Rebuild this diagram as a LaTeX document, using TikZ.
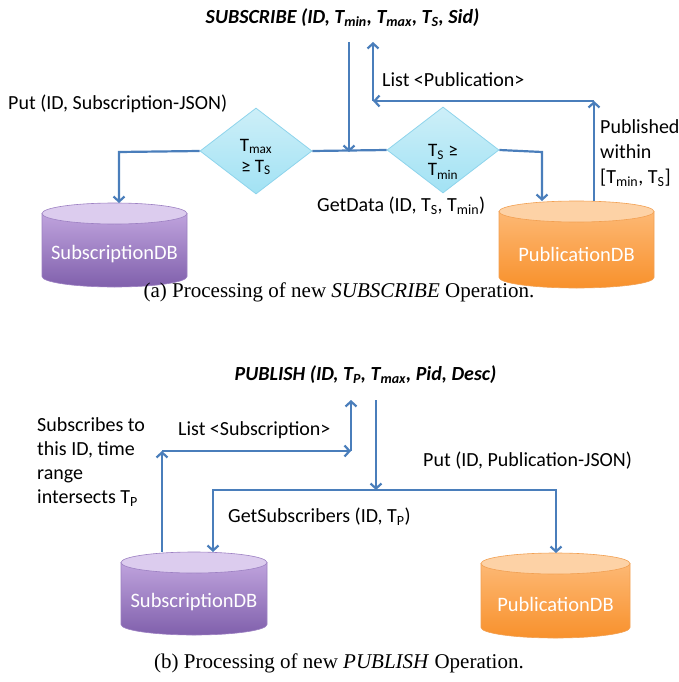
\documentclass[tikz,border=0pt]{standalone}
\usepackage{fontspec}
\setmainfont{Carlito}
\newfontfamily\capfont{Liberation Serif}
\usetikzlibrary{arrows.meta,shapes.geometric}

\definecolor{flow}{HTML}{4A7EBB}
\definecolor{purptop}{HTML}{DCCCEE}
\definecolor{purplight}{HTML}{BFA3DD}
\definecolor{purpdark}{HTML}{8060AC}
\definecolor{purpedge}{HTML}{9C80C2}
\definecolor{orngtop}{HTML}{FDD2A6}
\definecolor{ornglight}{HTML}{FDB874}
\definecolor{orngdark}{HTML}{F8912C}
\definecolor{orngedge}{HTML}{F2A052}
\definecolor{diamtop}{HTML}{CDEFF8}
\definecolor{diambot}{HTML}{A2E2F4}
\definecolor{diamedge}{HTML}{8ED4EC}

% database cylinder: centre x, top y, bottom y, half width, colour prefix
\newcommand\dbcyl[5]{%
  \shade[top color=#5light, bottom color=#5dark, draw=#5edge, line width=0.6pt]
    (#1-#4,#2+10.5) -- (#1-#4,#3-10.5)
    arc[start angle=180, end angle=0, x radius=#4, y radius=10.5]
    -- (#1+#4,#2+10.5) -- cycle;
  \draw[fill=#5top, draw=#5edge, line width=0.6pt]
    (#1,#2+10.5) ellipse[x radius=#4, y radius=10.5];
}

\tikzset{
  flowline/.style={draw=flow, line width=2.2pt, line join=miter},
  arr/.style={-{Straight Barb[length=5pt,width=11pt]}},
  decision/.style={shape=diamond, inner sep=0pt, minimum width=112pt,
    minimum height=86pt, top color=diamtop, bottom color=diambot,
    draw=diamedge, line width=0.8pt},
  lbl/.style={inner sep=0pt, font=\fontsize{20}{24}\selectfont, align=left},
  dbtext/.style={inner sep=0pt, text=white, font=\fontsize{20.5}{24}\selectfont},
  optitle/.style={inner sep=0pt, font=\fontsize{20}{24}\selectfont\bfseries\itshape},
  caption/.style={inner sep=0pt, font=\fontsize{21}{24}\selectfont\capfont},
}

\begin{document}
\begin{tikzpicture}[x=1pt, y=-1pt]
\useasboundingbox (0,0) rectangle (679,682);

%%%%%%%%%% (a) SUBSCRIBE %%%%%%%%%%
\node[optitle] (subop) at (342.5,18)
  {SUBSCRIBE (ID, T\textsubscript{min}, T\textsubscript{max}, T\textsubscript{S}, Sid)};

\dbcyl{114.5}{203}{287}{72.5}{purp}
\node[dbtext] (sdbA) at (114.5,254) {SubscriptionDB};
\dbcyl{576.5}{201}{288}{77.5}{orng}
\node[dbtext] (pdbA) at (576.5,254) {PublicationDB};

\node[decision] (d1) at (256,151) {};
\node[lbl, align=center, font=\fontsize{19}{21}\selectfont] (d1t) at (256,157) {T\textsubscript{max}\\≥ T\textsubscript{S}};
\node[decision] (d2) at (443,150) {};
\node[lbl, align=center, font=\fontsize{19}{19}\selectfont] (d2t) at (443,162) {T\textsubscript{S} ≥\\T\textsubscript{min}};

\coordinate (subIn) at (349,42);
\coordinate (subOut) at (373,42);
\coordinate (j1) at (349,152);
\coordinate (cornA) at (119,152);
\coordinate (sdbAtop) at (119,203);
\coordinate (cornB) at (542,152);
\coordinate (pdbAtop) at (542,201);
\coordinate (pdbAout) at (594,201);
\coordinate (cornC) at (594,101);
\coordinate (cornD) at (373,101);

\draw[flowline, arr] (subIn) -- (j1);
\draw[flowline, arr] (d1.west) -- (cornA) -- (sdbAtop);
\draw[flowline] (d1.east) -- (d2.west);
\draw[flowline, arr] (d2.east) -- (cornB) -- (pdbAtop);
\draw[flowline, arr] (pdbAout) -- (cornC);
\draw[flowline, arr] (cornC) -- (cornD);
\draw[flowline, arr] (cornD) -- (subOut);

\node[lbl, anchor=west] (putA) at (8,104) {Put (ID, Subscription-JSON)};
\node[lbl, anchor=west] (listA) at (382,80) {List <Publication>};
\node[lbl, anchor=west] (getA) at (317,206) {GetData (ID, T\textsubscript{S}, T\textsubscript{min})};
\node[lbl, anchor=north west, font=\fontsize{20}{25}\selectfont] (pubwin) at (600,119)
  {Published\\within\\{[}T\textsubscript{min}, T\textsubscript{S}]};

\node[caption] (capA) at (339,292) {(a) Processing of new \textit{SUBSCRIBE} Operation.};

%%%%%%%%%% (b) PUBLISH %%%%%%%%%%
\node[optitle] (pubop) at (365.5,375)
  {PUBLISH (ID, T\textsubscript{P}, T\textsubscript{max}, Pid, Desc)};

\dbcyl{194}{552}{635}{73}{purp}
\node[dbtext] (sdbB) at (194,602) {SubscriptionDB};
\dbcyl{555.5}{553}{638}{74.5}{orng}
\node[dbtext] (pdbB) at (555.5,604) {PublicationDB};

\coordinate (pubIn) at (376,400);
\coordinate (pubOut) at (351,400);
\coordinate (j2) at (376,490);
\coordinate (cornE) at (213,490);
\coordinate (sdbBtop) at (213,552);
\coordinate (cornF) at (556,490);
\coordinate (pdbBtop) at (556,553);
\coordinate (sdbBout) at (162,552);
\coordinate (cornG) at (162,451);
\coordinate (cornH) at (351,451);

\draw[flowline, arr] (pubIn) -- (j2);
\draw[flowline, arr] (cornF) -- (cornE) -- (sdbBtop);
\draw[flowline, arr] (cornE) -- (cornF) -- (pdbBtop);
\draw[flowline, arr] (sdbBout) -- (cornG);
\draw[flowline, arr] (cornG) -- (cornH);
\draw[flowline, arr] (cornH) -- (pubOut);

\node[lbl, anchor=north west] (subsc) at (37,417)
  {Subscribes to\\this ID, time\\range\\intersects T\textsubscript{P}};
\node[lbl, anchor=west] (listB) at (178,430) {List <Subscription>};
\node[lbl, anchor=west] (putB) at (423,461) {Put (ID, Publication-JSON)};
\node[lbl, anchor=west] (getB) at (228,517) {GetSubscribers (ID, T\textsubscript{P})};

\node[caption] (capB) at (339,663) {(b) Processing of new \textit{PUBLISH} Operation.};
\end{tikzpicture}
\end{document}
